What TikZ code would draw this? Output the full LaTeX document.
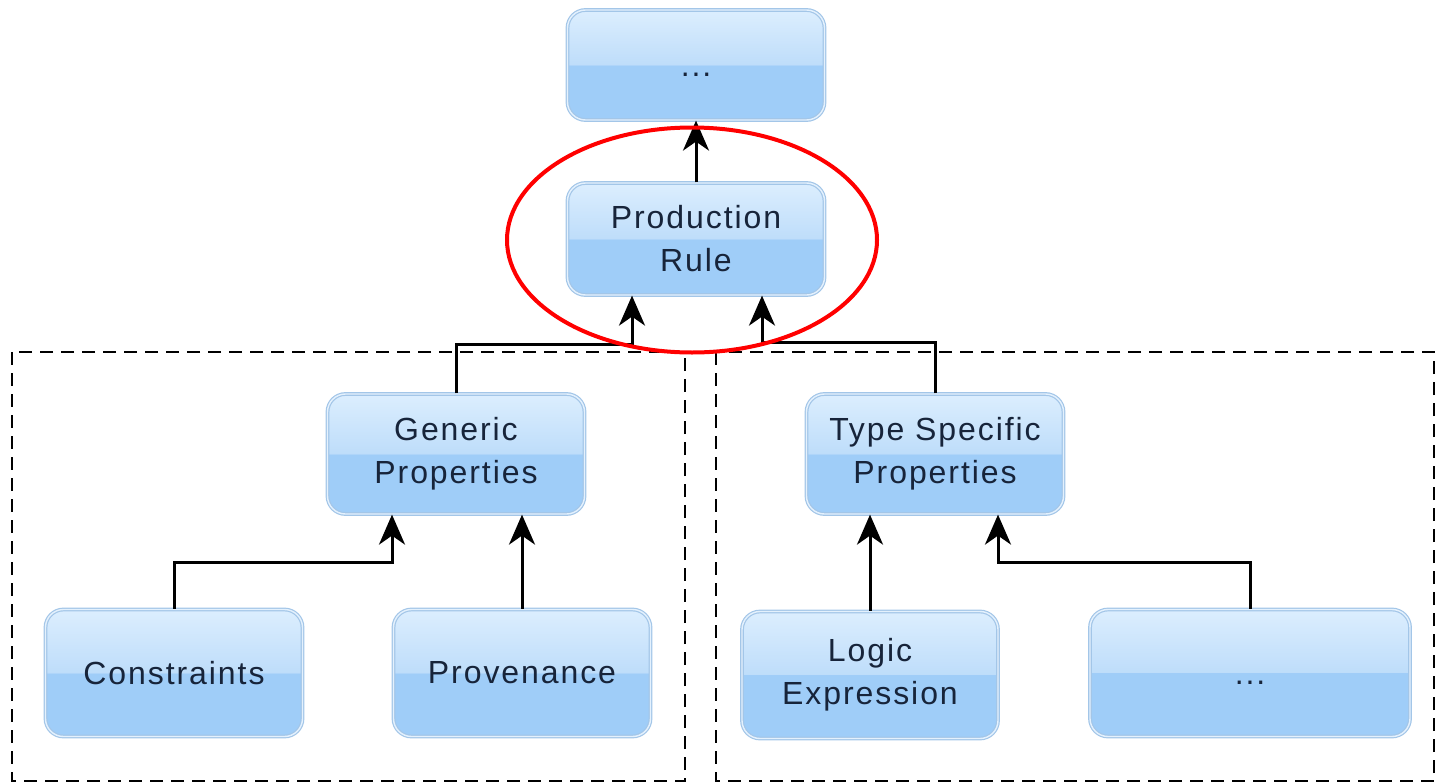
\documentclass[tikz,border=0pt]{standalone}
\usepackage{fontspec}
\setmainfont{Liberation Sans}
\usetikzlibrary{arrows.meta,shapes.geometric}
\definecolor{gtop}{HTML}{DCEEFE}
\definecolor{gmid}{HTML}{BEDDFA}
\definecolor{gbot}{HTML}{9FCDF8}
\definecolor{boxline}{HTML}{A3C6E8}
\definecolor{boxinner}{HTML}{E4F1FD}
\definecolor{txt}{HTML}{17243A}
\pgfdeclareverticalshading{glass}{100bp}{color(0bp)=(gbot); color(25bp)=(gbot); color(50bp)=(gbot); color(50bp)=(gmid); color(75bp)=(gtop); color(100bp)=(gtop)}
\tikzset{
  box/.style={draw=boxline, line width=1.2pt, double=boxinner, double distance=1.4pt,
    rounded corners=18pt, shading=glass,
    minimum width=257pt, minimum height=110pt, align=center, inner sep=0pt,
    font=\fontsize{32}{43}\selectfont\addfontfeature{LetterSpace=6}, text=txt},
  arr/.style={line width=3pt, -{Stealth[length=30pt,width=26pt,inset=9pt]}},
  grp/.style={line width=2.6pt, dash pattern=on 13pt off 8pt},
  hilite/.style={draw=red, line width=4pt, ellipse, minimum width=370pt, minimum height=225pt, inner sep=0pt}
}
\begin{document}
\begin{tikzpicture}[x=1pt,y=-1pt]
\useasboundingbox (0,0) rectangle (1437,784);
% group frames
\draw[grp] (12,352) rectangle (685,781);
\draw[grp] (716,352) rectangle (1434,781);
% nodes
\node[box] (top) at (696,65) {\raisebox{-11pt}[0pt][0pt]{...}};
\node[box, minimum height=112pt] (pr) at (696,239) {Production\\Rule};
\node[box, minimum height=120pt] (gp) at (456,454) {Generic\\Properties};
\node[box, minimum height=120pt] (ts) at (935,454) {Type Specific\\Properties};
\node[box, minimum height=127pt] (co) at (174,673) {Constraints};
\node[box, minimum height=127pt] (pv) at (522,673) {Provenance};
\node[box, minimum height=127pt, minimum width=256pt] (le) at (870,675) {Logic\\Expression};
\node[box, minimum height=127pt, minimum width=320pt] (dd) at (1250,673) {\raisebox{-11pt}[0pt][0pt]{...}};
% junction coordinates
\coordinate (jL) at (632,344);
\coordinate (jR) at (762,342);
\coordinate (cL) at (392,562);
\coordinate (dR) at (998,562);
% connectors
\draw[arr] (pr.north) -- (top.south);
\draw[arr] (gp.north) |- (jL) -- (jL |- pr.south);
\draw[arr] (ts.north) |- (jR) -- (jR |- pr.south);
\draw[arr] (co.north) |- (cL) -- (cL |- gp.south);
\draw[arr] (pv.north) -- (pv.north |- gp.south);
\draw[arr] (le.north) -- (le.north |- ts.south);
\draw[arr] (dd.north) |- (dR) -- (dR |- ts.south);
% highlight
\node[hilite] (hl) at (692,240) {};
\end{tikzpicture}
\end{document}
